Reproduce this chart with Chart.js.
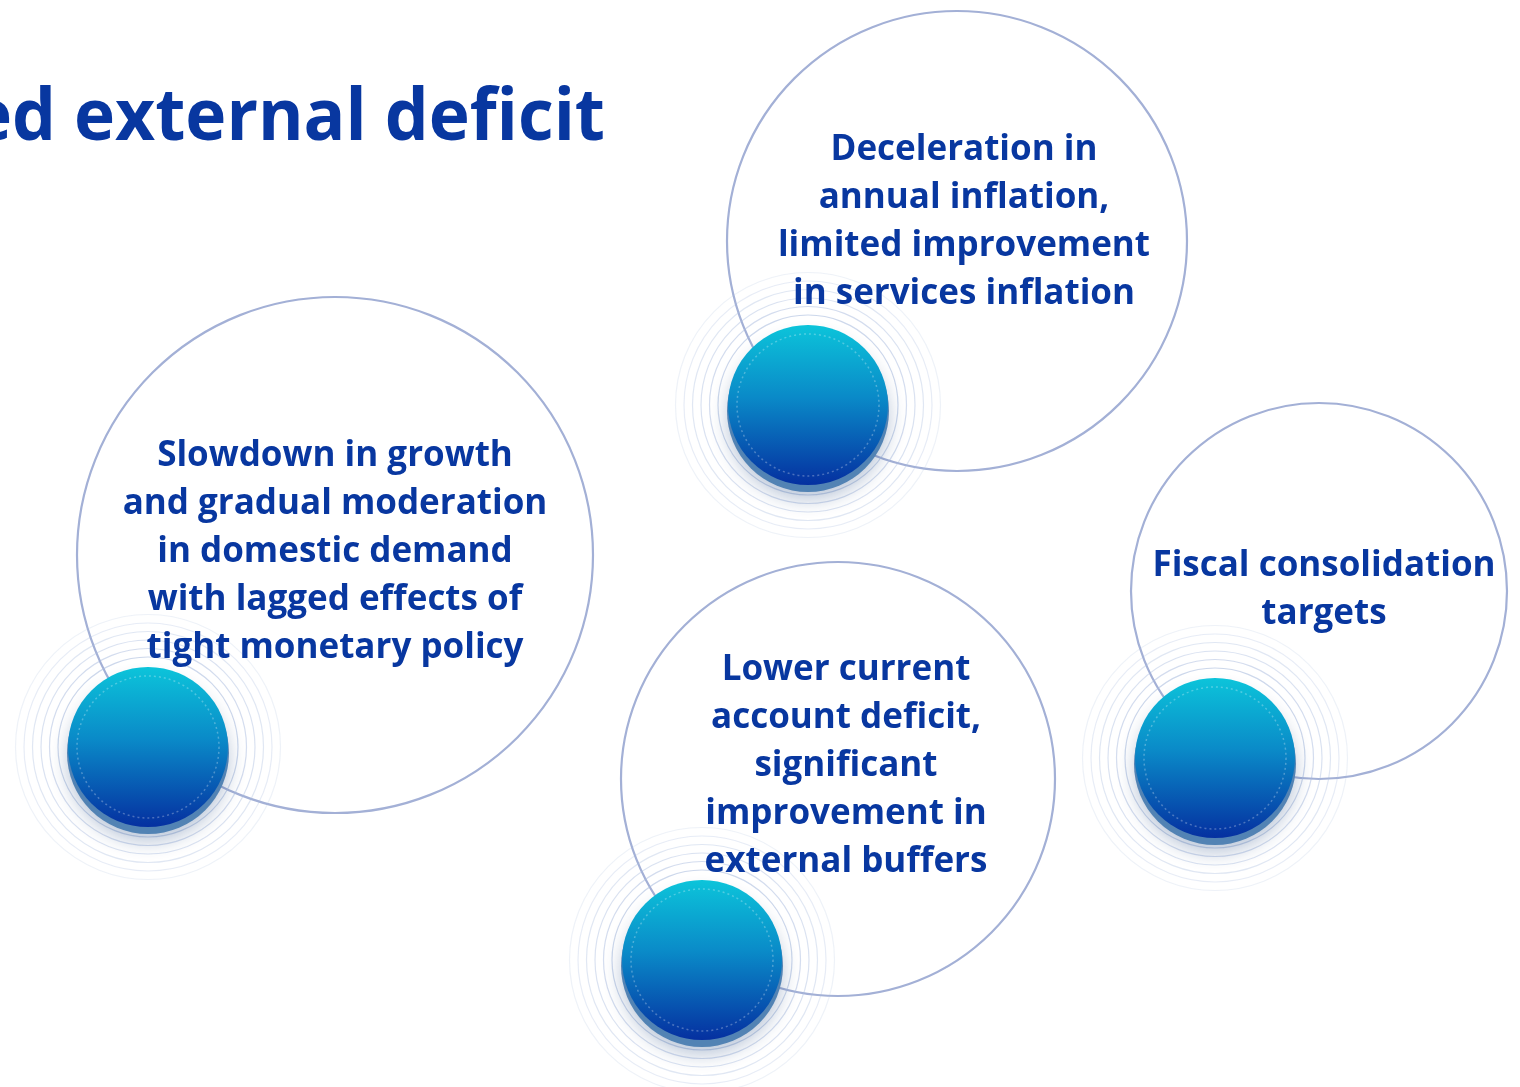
<!DOCTYPE html>
<html>
<head>
<meta charset="utf-8">
<script src="https://cdn.jsdelivr.net/npm/chart.js@4.4.1/dist/chart.umd.min.js"></script>
<style>
  html, body { margin: 0; padding: 0; background: #fff; overflow: hidden; }
</style>
</head>
<body>
<canvas id="chart" width="1520" height="1087"></canvas>
<script>
// Diagram data (units = canvas pixels, y grows downward)
const titleText = 'ed external deficit';
const circleX = [335, 957, 838, 1319];
const circleY = [555, 241, 779, 591];
const circleR = [258, 230, 217, 188];
const ballX = [148, 808, 702, 1215];
const ballY = [747, 405, 960, 758];
const ballR = [80, 80, 80, 80];
const labelX = [335, 964, 846, 1324];
const labelY = [552, 222, 766, 590];
const labels = [
    ['Slowdown in growth', 'and gradual moderation', 'in domestic demand', 'with lagged effects of', 'tight monetary policy'],
    ['Deceleration in', 'annual inflation,', 'limited improvement', 'in services inflation'],
    ['Lower current', 'account deficit,', 'significant', 'improvement in', 'external buffers'],
    ['Fiscal consolidation', 'targets']
];

const BLUE = '#0837a0';
const FONT = '"Open Sans", "Noto Sans", sans-serif';

function ballGradient(ctx) {
    const chart = ctx.chart;
    const raw = ctx.raw;
    if (!raw || !chart.scales.y) return '#0a8cc8';
    const y = chart.scales.y.getPixelForValue(raw.y);
    if (!isFinite(y)) return '#0a8cc8';
    const g = chart.ctx.createLinearGradient(0, y - raw.r, 0, y + raw.r);
    g.addColorStop(0, '#0cc4da');
    g.addColorStop(0.45, '#0a8ac8');
    g.addColorStop(1, '#0530a0');
    return g;
}

// halo rings, shadow and base rim under each ball
const ballDecor = {
    id: 'ballDecor',
    beforeDatasetDraw(chart, args) {
        if (args.index !== 0) return;
        const ctx = chart.ctx;
        args.meta.data.forEach((el, i) => {
            const r = ballR[i];
            ctx.save();
            for (let k = 0; k < 6; k++) {
                ctx.beginPath();
                ctx.arc(el.x, el.y, r + 10 + k * 8.5, 0, Math.PI * 2);
                ctx.strokeStyle = 'rgba(170,188,222,' + (0.6 - k * 0.08) + ')';
                ctx.lineWidth = 1.2;
                ctx.stroke();
            }
            ctx.shadowColor = 'rgba(30,70,130,0.30)';
            ctx.shadowBlur = 18;
            ctx.shadowOffsetY = 8;
            ctx.beginPath();
            ctx.arc(el.x, el.y + 6, r + 1, 0, Math.PI * 2);
            ctx.fillStyle = '#5283b4';
            ctx.fill();
            ctx.restore();
        });
    },
    afterDatasetDraw(chart, args) {
        if (args.index !== 0) return;
        const ctx = chart.ctx;
        args.meta.data.forEach((el, i) => {
            ctx.save();
            ctx.beginPath();
            ctx.arc(el.x, el.y, ballR[i] - 9, 0, Math.PI * 2);
            ctx.setLineDash([2, 3]);
            ctx.strokeStyle = 'rgba(255,255,255,0.28)';
            ctx.lineWidth = 1.5;
            ctx.stroke();
            ctx.restore();
        });
    }
};

// title and circle texts
const texts = {
    id: 'texts',
    afterDraw(chart) {
        const ctx = chart.ctx;
        const xs = chart.scales.x, ys = chart.scales.y;
        ctx.save();
        ctx.fillStyle = BLUE;
        ctx.font = 'bold 72px ' + FONT;
        ctx.textAlign = 'right';
        ctx.textBaseline = 'alphabetic';
        ctx.save();
        ctx.translate(605, 140);
        ctx.scale(0.965, 1);
        ctx.fillText(titleText, 0, 0);
        ctx.restore();

        ctx.font = 'bold 35px ' + FONT;
        ctx.textAlign = 'center';
        ctx.textBaseline = 'middle';
        labels.forEach((lines, i) => {
            const cx = xs.getPixelForValue(labelX[i]);
            const cy = ys.getPixelForValue(labelY[i]);
            const top = cy - (lines.length - 1) * 48 / 2;
            lines.forEach((t, j) => ctx.fillText(t, cx, top + j * 48));
        });
        ctx.restore();
    }
};

const ballData = ballX.map((x, i) => ({ x: x, y: ballY[i], r: ballR[i] }));
const circleData = circleX.map((x, i) => ({ x: x, y: circleY[i], r: circleR[i] }));

const chart = new Chart(document.getElementById('chart'), {
    type: 'bubble',
    data: {
        datasets: [
            {
                label: 'balls',
                data: ballData,
                order: 1,
                backgroundColor: ballGradient,
                borderWidth: 0,
                hoverRadius: 0,
                clip: false
            },
            {
                label: 'circles',
                data: circleData,
                order: 2,
                backgroundColor: 'rgba(255,255,255,0)',
                borderColor: '#a3b0d6',
                borderWidth: 2.2,
                hoverRadius: 0,
                clip: false
            }
        ]
    },
    options: {
        responsive: false,
        animation: false,
        events: [],
        layout: { padding: 0, autoPadding: false },
        plugins: { legend: { display: false }, tooltip: { enabled: false } },
        scales: {
            x: { type: 'linear', min: 0, max: 1520, display: false },
            y: { type: 'linear', min: 0, max: 1087, reverse: true, display: false }
        }
    },
    plugins: [ballDecor, texts]
});
chart.update();
</script>
</body>
</html>
